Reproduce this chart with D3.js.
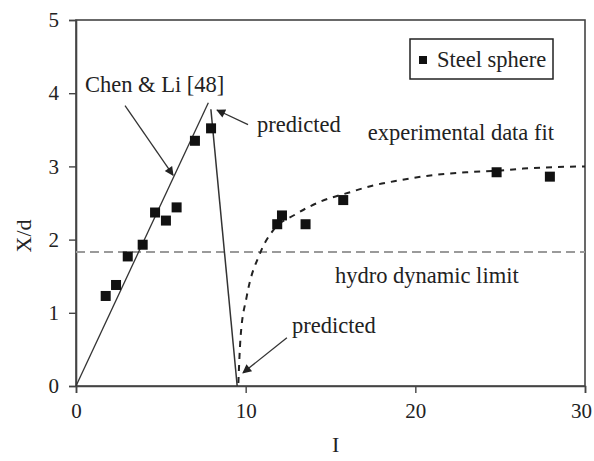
<!DOCTYPE html>
<html>
<head>
<meta charset="utf-8">
<script src="https://cdn.jsdelivr.net/npm/d3@7"></script>
<style>
body { margin: 0; background: #fff; }
svg text { font-family: "Liberation Serif", "DejaVu Serif", "Times New Roman", Times, serif; fill: #222; }
</style>
</head>
<body>
<div id="chart"></div>
<script>
// data
var xTicks = [0, 10, 20, 30];
var yTicks = [0, 1, 2, 3, 4, 5];

var sphereI  = [1.75, 2.36, 3.05, 3.93, 4.66, 5.30, 5.93, 7.01, 7.96, 11.86, 12.14, 13.53, 15.75, 24.79, 27.93];
var sphereXd = [1.23, 1.38, 1.77, 1.93, 2.37, 2.26, 2.44, 3.35, 3.52, 2.21, 2.33, 2.21, 2.54, 2.92, 2.86];

var chenLiI  = [0, 7.8];
var chenLiXd = [0, 3.87];

var predI  = [7.95, 9.5];
var predXd = [3.78, 0];

var fitI  = [9.57, 9.70, 10.06, 10.84, 11.63, 12.9, 14.42, 16.05, 17.52, 19.09, 20.66, 23.0, 24.79, 26.36, 30];
var fitXd = [0.04, 0.67, 1.22, 1.81, 2.13, 2.34, 2.52, 2.64, 2.74, 2.81, 2.87, 2.92, 2.94, 2.97, 3.0];

var hydroLimit = 1.83;

var width = 594, height = 461;
var margin = {top: 20, right: 9, bottom: 75, left: 76};
var serif = "'Liberation Serif', 'DejaVu Serif', serif";

var svg = d3.select("#chart").append("svg")
  .attr("width", width)
  .attr("height", height);

var x = d3.scaleLinear().domain([0, 30]).range([margin.left, width - margin.right]);
var y = d3.scaleLinear().domain([0, 5]).range([height - margin.bottom, margin.top]);

//arrow head
svg.append("defs").append("marker")
  .attr("id", "arrow")
  .attr("viewBox", "0 0 10 10")
  .attr("refX", 9).attr("refY", 5)
  .attr("markerWidth", 11).attr("markerHeight", 9)
  .attr("markerUnits", "userSpaceOnUse")
  .attr("orient", "auto")
  .append("path")
  .attr("d", "M0,0 L10,5 L0,10 Z")
  .style("fill", "#222");

//frame
svg.append("rect")
  .attr("x", x(0)).attr("y", y(5))
  .attr("width", x(30) - x(0)).attr("height", y(0) - y(5))
  .style("fill", "none").style("stroke", "#444").style("stroke-width", 1.6);

//axes
var xAxis = svg.append("g")
  .attr("transform", "translate(0," + y(0) + ")")
  .call(d3.axisBottom(x).tickValues(xTicks).tickSize(7).tickPadding(10).tickFormat(d3.format("d")));
var yAxis = svg.append("g")
  .attr("transform", "translate(" + x(0) + ",0)")
  .call(d3.axisLeft(y).tickValues(yTicks).tickSize(7).tickPadding(10).tickFormat(d3.format("d")));
[xAxis, yAxis].forEach(function(g) {
  g.attr("font-family", serif).attr("font-size", 21);
  g.select(".domain").style("stroke", "#444").style("stroke-width", 1.6);
  g.selectAll(".tick line").style("stroke", "#444").style("stroke-width", 1.4);
  g.selectAll(".tick text").style("fill", "#222");
});
// the last x label sits at the page edge, nudge it in
xAxis.selectAll(".tick text").filter(function(d) { return d === 30; }).attr("dx", -4);

//axis titles
svg.append("text")
  .attr("x", x(15.3)).attr("y", 452)
  .attr("text-anchor", "middle")
  .style("font-size", "22px")
  .text("I");
svg.append("text")
  .attr("transform", "translate(31," + y(2.05) + ") rotate(-90)")
  .attr("text-anchor", "middle")
  .style("font-size", "22px")
  .text("X/d");

var line = d3.line().x(function(d) { return x(d[0]); }).y(function(d) { return y(d[1]); });

//hydrodynamic limit
svg.append("line")
  .attr("x1", x(0)).attr("x2", x(30))
  .attr("y1", y(hydroLimit)).attr("y2", y(hydroLimit))
  .style("stroke", "#9a9a9a").style("stroke-width", 2)
  .style("stroke-dasharray", "9,5");

//Chen & Li line and predicted drop
svg.append("path")
  .attr("d", line(d3.zip(chenLiI, chenLiXd)))
  .style("fill", "none").style("stroke", "#333").style("stroke-width", 1.3);
svg.append("path")
  .attr("d", line(d3.zip(predI, predXd)))
  .style("fill", "none").style("stroke", "#333").style("stroke-width", 1.5);

//experimental fit
svg.append("path")
  .attr("d", d3.line().curve(d3.curveMonotoneX)
    .x(function(d) { return x(d[0]); }).y(function(d) { return y(d[1]); })(d3.zip(fitI, fitXd)))
  .style("fill", "none").style("stroke", "#222").style("stroke-width", 2)
  .style("stroke-dasharray", "6,6");

//steel sphere points
svg.selectAll("rect.pt")
  .data(d3.zip(sphereI, sphereXd))
  .enter().append("rect")
  .attr("class", "pt")
  .attr("x", function(d) { return x(d[0]) - 5; })
  .attr("y", function(d) { return y(d[1]) - 5; })
  .attr("width", 10).attr("height", 10)
  .style("fill", "#111");

//annotations
function label(t, xi, yi) {
  svg.append("text").attr("x", x(xi)).attr("y", y(yi))
    .style("font-size", "22.5px").text(t);
}
function arrow(x1, y1, x2, y2) {
  svg.append("line")
    .attr("x1", x(x1)).attr("y1", y(y1))
    .attr("x2", x(x2)).attr("y2", y(y2))
    .style("stroke", "#333").style("stroke-width", 1.3)
    .attr("marker-end", "url(#arrow)");
}
label("Chen & Li [48]", 0.53, 4.02);
label("predicted", 10.67, 3.47);
label("experimental data fit", 17.2, 3.36);
label("hydro dynamic limit", 15.26, 1.41);
label("predicted", 12.73, 0.72);
arrow(2.89, 3.83, 5.72, 2.88);
arrow(10.14, 3.57, 8.31, 3.77);
arrow(12.43, 0.66, 9.84, 0.18);

//legend
var lg = svg.append("g");
lg.append("rect")
  .attr("x", 410).attr("y", 39).attr("width", 143).attr("height", 40)
  .style("fill", "#fff").style("stroke", "#222").style("stroke-width", 1.5);
lg.append("rect")
  .attr("x", 419).attr("y", 56).attr("width", 8).attr("height", 8)
  .style("fill", "#111");
lg.append("text")
  .attr("x", 437).attr("y", 67)
  .style("font-size", "22.5px")
  .text("Steel sphere");
</script>
</body>
</html>
